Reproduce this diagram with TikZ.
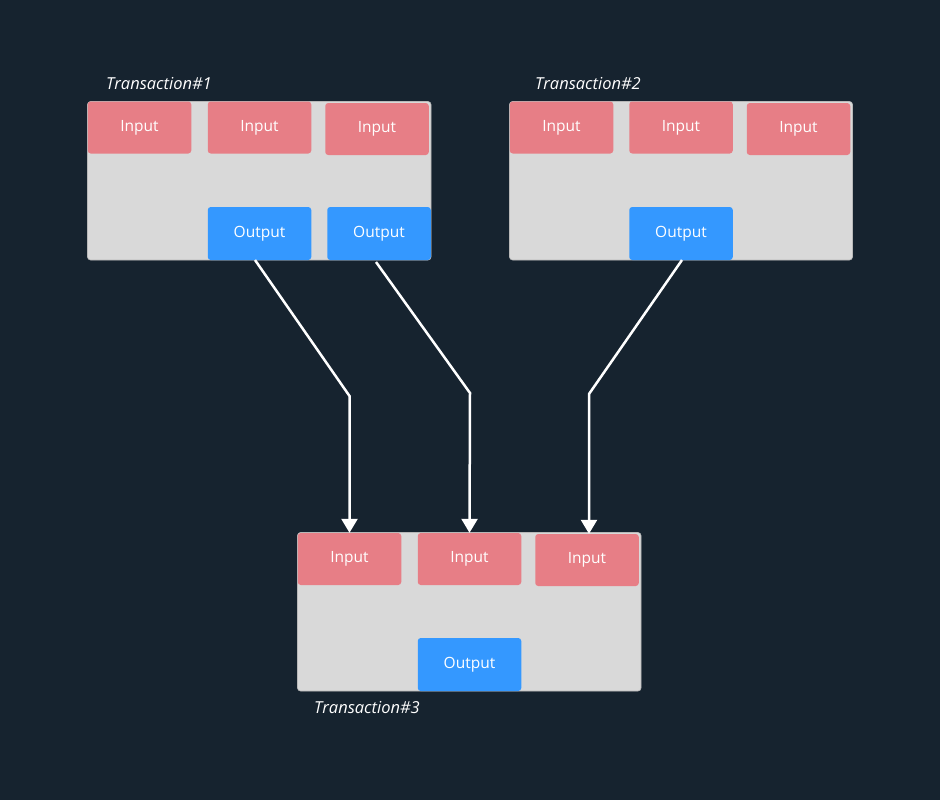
\documentclass[tikz,border=0pt]{standalone}
\usepackage{fontspec}
\setmainfont{Open Sans}
\usetikzlibrary{arrows.meta}
\definecolor{bgc}{HTML}{16232F}
\definecolor{boxc}{HTML}{D9D9D9}
\definecolor{inc}{HTML}{E77E86}
\definecolor{outc}{HTML}{3498FF}
\tikzset{
  container/.style={fill=boxc, draw=boxc!85!black, line width=0.6pt, rounded corners=3pt},
  inbox/.style={fill=inc, rounded corners=3pt, minimum width=103.5pt, minimum height=52pt, inner sep=0pt, text=white, font=\fontsize{15.5}{18}\selectfont},
  outbox/.style={fill=outc, rounded corners=3pt, minimum width=103.5pt, minimum height=53pt, inner sep=0pt, text=white, font=\fontsize{15.5}{18}\selectfont},
  tlabel/.style={text=white, anchor=west, inner sep=0pt, font=\fontsize{16.5}{19}\selectfont\itshape},
  arr/.style={draw=white, line width=2.5pt, -{Triangle[width=16pt,length=14pt]}}
}
\begin{document}
\begin{tikzpicture}[x=1pt,y=-1pt]
\fill[bgc] (0,0) rectangle (940,800);
\useasboundingbox (0,0) rectangle (940,800);
% containers
\draw[container] (87.5,101.5) rectangle (431,260) node[pos=0,inner sep=0pt] (t1) {};
\draw[container] (509.5,101.5) rectangle (852.5,260) node[pos=0,inner sep=0pt] (t2) {};
\draw[container] (297.5,532.5) rectangle (641,691) node[pos=0,inner sep=0pt] (t3) {};
% labels
\node[tlabel] (l1) at (106,84) {Transaction\#1};
\node[tlabel] (l2) at (535,84) {Transaction\#2};
\node[tlabel] (l3) at (314,708) {Transaction\#3};
% transaction 1
\node[inbox] (i11) at (139.5,127.5) {Input};
\node[inbox] (i12) at (259.5,127.5) {Input};
\node[inbox] (i13) at (377,129) {Input};
\node[outbox] (o11) at (259.5,233.5) {Output};
\node[outbox] (o12) at (379,233.5) {Output};
% transaction 2
\node[inbox] (i21) at (561.5,127.5) {Input};
\node[inbox] (i22) at (681,127.5) {Input};
\node[inbox] (i23) at (798.5,129) {Input};
\node[outbox] (o21) at (681,233.5) {Output};
% transaction 3
\node[inbox] (i31) at (349.5,559) {Input};
\node[inbox] (i32) at (469.5,559) {Input};
\node[inbox] (i33) at (587,560) {Input};
\node[outbox] (o31) at (469.5,664.5) {Output};
% bend points
\coordinate (b1) at (349.5,396);
\coordinate (b2) at (470,393);
\coordinate (b3) at (589,394);
\coordinate (s1) at (255,260);
\coordinate (s2) at (376,262);
\coordinate (s3) at (682,260);
% connectors
\draw[arr] (s1) -- (b1) -- (i31.north);
\draw[arr] (s2) -- (b2) -- (i32.north);
\draw[arr] (s3) -- (b3) -- (b3 |- i33.north);
\end{tikzpicture}
\end{document}
